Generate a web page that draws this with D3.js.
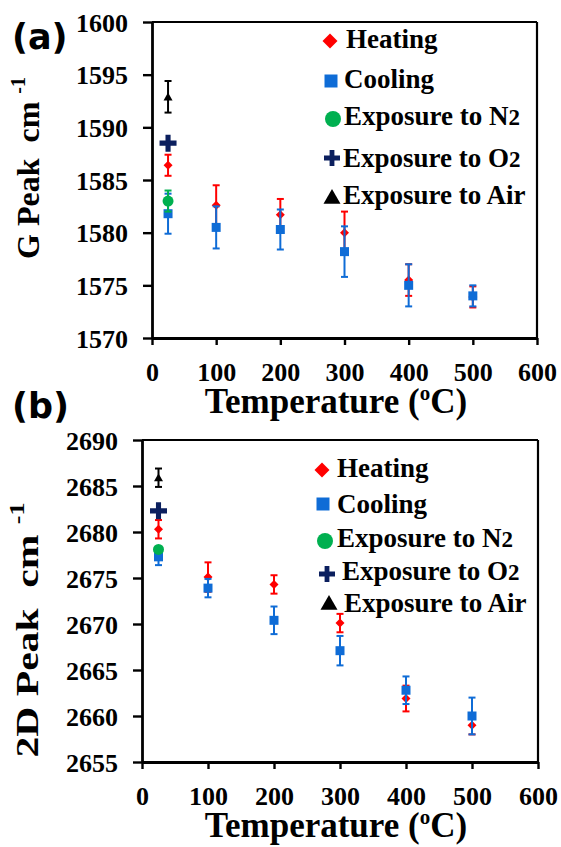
<!DOCTYPE html>
<html><head><meta charset="utf-8">
<script src="https://cdn.jsdelivr.net/npm/d3@7"></script>
<style>
html,body{margin:0;padding:0;background:#fff;}
svg{display:block;}
svg text{font-family:"Times New Roman",serif;}
svg text.lab{font-family:"DejaVu Sans",sans-serif;}
</style></head>
<body>
<script>
// ---------- DATA ----------
const temps = [25, 100, 200, 300, 400, 500];
const xTicks = [0, 100, 200, 300, 400, 500, 600];

// Panel (a): G peak
const gTicks = [1570, 1575, 1580, 1585, 1590, 1595, 1600];
const gHeat = [1586.4, 1582.6, 1581.7, 1580.0, 1575.5, 1573.9];
const gHeatErr = [1.0, 1.9, 1.5, 2.0, 1.5, 1.0];
const gCool = [1581.8, 1580.5, 1580.3, 1578.2, 1575.0, 1574.0];
const gCoolErr = [1.9, 2.0, 1.9, 2.4, 2.0, 1.0];
const gN2 = [1583.0], gN2Err = [1.0];
const gO2 = [1588.5], gO2Err = [0];
const gAir = [1592.9], gAirErr = [1.5];

// Panel (b): 2D peak
const dTicks = [2655, 2660, 2665, 2670, 2675, 2680, 2685, 2690];
const dHeat = [2680.3, 2675.1, 2674.3, 2670.1, 2661.9, 2659.0];
const dHeatErr = [1.0, 1.6, 1.0, 1.0, 1.4, 1.0];
const dCool = [2677.3, 2673.9, 2670.4, 2667.1, 2662.8, 2660.0];
const dCoolErr = [0.9, 1.0, 1.5, 1.6, 1.5, 2.0];
const dN2 = [2678.1], dN2Err = [0];
const dO2 = [2682.3], dO2Err = [0];
const dAir = [2685.9], dAirErr = [1.0];

const legendLabels = ["Heating", "Cooling", "Exposure to N", "Exposure to O", "Exposure to Air"];
const legendSubs = ["", "", "2", "2", ""];

// ---------- STYLE ----------
const C = {heat:"#FF0000", cool:"#0F6CD6", n2:"#00B050", o2:"#0B1F5E", air:"#000000"};

const W = 561, H = 847;
const svg = d3.select("body").append("svg").attr("width", W).attr("height", H);

function markerPath(type, s) {
  const h = s/2;
  if (type === "diamond") return `M0,${-h}L${h},0L0,${h}L${-h},0Z`;
  if (type === "square") return `M${-h},${-h}H${h}V${h}H${-h}Z`;
  if (type === "triangle") return `M0,${-h*0.95}L${h},${h*0.8}L${-h},${h*0.8}Z`;
  if (type === "circle") return `M${h},0A${h},${h} 0 1,1 ${-h},0A${h},${h} 0 1,1 ${h},0Z`;
  if (type === "plus") { const t = s*0.15; return `M${-t},${-h}H${t}V${-t}H${h}V${t}H${t}V${h}H${-t}V${t}H${-h}V${-t}H${-t}Z`; }
}

function panel(cfg) {
  const {left, right, top, bottom, yDomain, yTicks, series, legend, yTitle, yTitleCfg, label} = cfg;
  const x = d3.scaleLinear().domain([0, 600]).range([left, right]);
  const y = d3.scaleLinear().domain(yDomain).range([bottom, top]);
  const g = svg.append("g");

  g.append("line").attr("x1", left).attr("x2", right).attr("y1", top).attr("y2", top)
    .attr("stroke", "#000").attr("stroke-width", 2.2);
  g.append("line").attr("x1", right).attr("x2", right).attr("y1", top).attr("y2", bottom)
    .attr("stroke", "#000").attr("stroke-width", 2.2);

  const ax = g.append("g").attr("transform", `translate(0,${bottom})`)
    .call(d3.axisBottom(x).tickValues(xTicks).tickFormat(d3.format("d")).tickSize(7).tickSizeOuter(0));
  const ay = g.append("g").attr("transform", `translate(${left},0)`)
    .call(d3.axisLeft(y).tickValues(yTicks).tickFormat(d3.format("d")).tickSize(9).tickSizeOuter(0));
  [ax, ay].forEach(a => {
    a.attr("font-family", null).attr("font-size", null);
    a.select(".domain").attr("stroke", "#000").attr("stroke-width", 2.8);
    a.selectAll(".tick line").attr("stroke", "#000").attr("stroke-width", 2.4);
    a.selectAll("text").attr("font-weight", "bold")
      .attr("font-size", 26).attr("fill", "#000");
  });
  ax.selectAll("text").attr("y", 43).attr("dy", null);
  ay.selectAll("text").attr("x", -24).attr("dy", 9);

  series.forEach(s => {
    const sg = g.append("g");
    s.vals.forEach((v, i) => {
      const e = s.err[i];
      const cx = x(s.xs[i]);
      if (e > 0) {
        const y1 = y(v + e), y2 = y(v - e);
        sg.append("line").attr("x1", cx).attr("x2", cx).attr("y1", y1).attr("y2", y2)
          .attr("stroke", s.color).attr("stroke-width", 2);
        [y1, y2].forEach(yy => sg.append("line").attr("x1", cx - 3.5).attr("x2", cx + 3.5)
          .attr("y1", yy).attr("y2", yy).attr("stroke", s.color).attr("stroke-width", 2));
      }
      sg.append("path").attr("d", markerPath(s.type, s.size))
        .attr("transform", `translate(${cx},${y(v)})`).attr("fill", s.color);
    });
  });

  legend.forEach((L, i) => {
    const s = series[i];
    g.append("path").attr("d", markerPath(s.type, L.ms))
      .attr("transform", `translate(${L.mx},${L.my})`).attr("fill", s.color);
    const t = g.append("text").attr("x", L.tx).attr("y", L.ty)
      .attr("font-size", 27).attr("font-weight", "bold").attr("fill", "#000");
    t.append("tspan").text(legendLabels[i]);
    if (legendSubs[i]) t.append("tspan").attr("font-size", 23).text(legendSubs[i]);
  });

  const xt = g.append("text").attr("x", 336).attr("y", bottom + 75)
    .attr("text-anchor", "middle").attr("font-size", 35).attr("font-weight", "bold");
  xt.append("tspan").text("Temperature (");
  xt.append("tspan").attr("font-size", 21).attr("dy", -13).text("o");
  xt.append("tspan").attr("dy", 13).text("C)");

  const yt = g.append("text")
    .attr("transform", `translate(${yTitleCfg.x},${yTitleCfg.y}) rotate(-90) scale(${yTitleCfg.sx},1)`)
    .attr("text-anchor", "middle").attr("font-size", 32).attr("font-weight", "bold");
  yt.append("tspan").text(yTitle + "\u00a0\u00a0cm\u00a0");
  yt.append("tspan").attr("font-size", 20).attr("dy", -14).text("-1");

  svg.append("text").attr("class", "lab").attr("x", label.x).attr("y", label.y)
    .attr("font-weight", "bold").attr("font-size", 35).text(label.t);
}

panel({
  left: 152, right: 537, top: 22, bottom: 338,
  yDomain: [1570, 1600], yTicks: gTicks,
  series: [
    {xs: temps, vals: gHeat, err: gHeatErr, color: C.heat, type: "diamond", size: 9},
    {xs: temps, vals: gCool, err: gCoolErr, color: C.cool, type: "square", size: 9},
    {xs: [25], vals: gN2, err: gN2Err, color: C.n2, type: "circle", size: 11},
    {xs: [25], vals: gO2, err: gO2Err, color: C.o2, type: "plus", size: 17},
    {xs: [25], vals: gAir, err: gAirErr, color: C.air, type: "triangle", size: 9}
  ],
  legend: [
    {mx: 330, my: 41, ms: 15, tx: 346, ty: 48},
    {mx: 331, my: 81, ms: 13, tx: 344, ty: 88},
    {mx: 333, my: 119, ms: 16, tx: 344, ty: 125},
    {mx: 332, my: 158, ms: 16, tx: 343, ty: 167},
    {mx: 332, my: 197, ms: 17, tx: 343, ty: 204}
  ],
  yTitle: "G Peak", yTitleCfg: {x: 39, y: 168, sx: 1},
  label: {x: 12, y: 49, t: "(a)"}
});

panel({
  left: 142, right: 538, top: 440, bottom: 762,
  yDomain: [2655, 2690], yTicks: dTicks,
  series: [
    {xs: temps, vals: dHeat, err: dHeatErr, color: C.heat, type: "diamond", size: 9},
    {xs: temps, vals: dCool, err: dCoolErr, color: C.cool, type: "square", size: 9},
    {xs: [25], vals: dN2, err: dN2Err, color: C.n2, type: "circle", size: 11},
    {xs: [25], vals: dO2, err: dO2Err, color: C.o2, type: "plus", size: 17},
    {xs: [25], vals: dAir, err: dAirErr, color: C.air, type: "triangle", size: 9}
  ],
  legend: [
    {mx: 322, my: 470, ms: 15, tx: 337, ty: 477},
    {mx: 323, my: 504, ms: 13, tx: 337, ty: 513},
    {mx: 325, my: 541, ms: 16, tx: 337, ty: 547},
    {mx: 327, my: 574, ms: 16, tx: 342, ty: 580},
    {mx: 329, my: 603, ms: 17, tx: 344, ty: 612}
  ],
  yTitle: "2D Peak", yTitleCfg: {x: 38, y: 630, sx: 1.3},
  label: {x: 12, y: 418, t: "(b)"}
});
</script>
</body></html>
